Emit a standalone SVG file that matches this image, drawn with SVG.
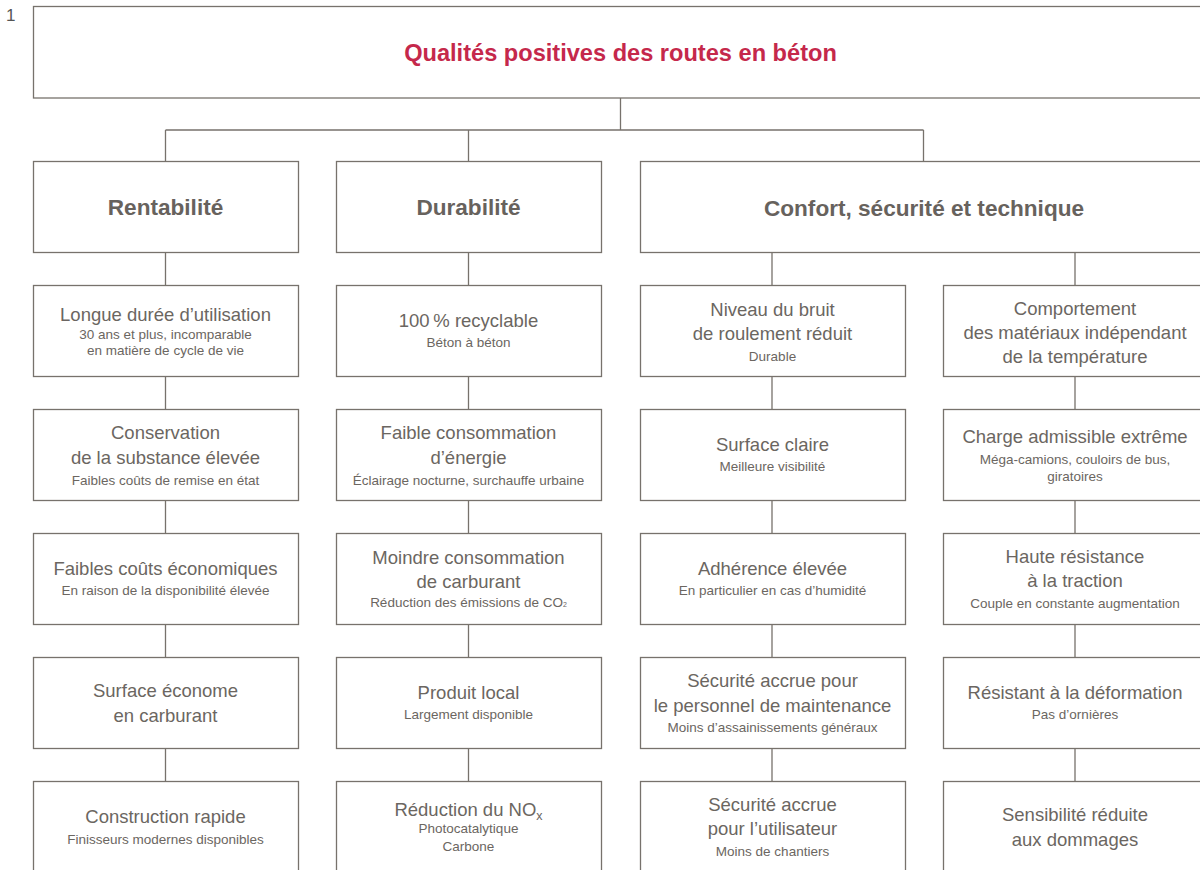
<svg xmlns="http://www.w3.org/2000/svg" width="1200" height="870" viewBox="0 0 1200 870">
  <style>
    .box { fill: #ffffff; stroke: #77726c; stroke-width: 1.3; }
    .conn { fill: none; stroke: #77726c; stroke-width: 1.3; }
    text { font-family: "Liberation Sans", Arial, Helvetica, sans-serif; fill: #6b6661; text-anchor: middle; }
    .title { font-size: 23.6px; font-weight: bold; fill: #c5284b; }
    .head { font-size: 22.6px; font-weight: bold; fill: #67625d; }
    .m { font-size: 18.5px; }
    .s { font-size: 13.5px; }
    .num { font-size: 17px; text-anchor: start; fill: #555; }
  </style>

  <text class="num" x="6" y="21">1</text>

  <!-- tree connectors -->
  <g id="connectors">
    <path class="conn" d="M620.5 98V130 M165.5 130H923.5 M165.5 130V161 M468.5 130V161 M923.5 130V161"/>
    <path class="conn" d="M165.5 252V285 M468.5 252V285 M772 252V285 M1075 252V285"/>
    <path class="conn" d="M165.5 376V409 M468.5 376V409 M772 376V409 M1075 376V409"/>
    <path class="conn" d="M165.5 500V533 M468.5 500V533 M772 500V533 M1075 500V533"/>
    <path class="conn" d="M165.5 624V657 M468.5 624V657 M772 624V657 M1075 624V657"/>
    <path class="conn" d="M165.5 748V781 M468.5 748V781 M772 748V781 M1075 748V781"/>
  </g>

  <!-- root -->
  <g id="root">
    <rect class="box" x="33.5" y="6.5" width="1180" height="91.5"/>
    <text class="title" x="620.5" y="61">Qualités positives des routes en béton</text>
  </g>

  <!-- categories -->
  <g id="cat-rentabilite">
    <rect class="box" x="33.5" y="161.5" width="265" height="91"/>
    <text class="head" x="165.5" y="215">Rentabilité</text>
  </g>
  <g id="cat-durabilite">
    <rect class="box" x="336.5" y="161.5" width="265" height="91"/>
    <text class="head" x="468.5" y="215">Durabilité</text>
  </g>
  <g id="cat-confort">
    <rect class="box" x="640.5" y="161.5" width="580" height="91"/>
    <text class="head" x="924" y="216">Confort, sécurité et technique</text>
  </g>

  <!-- column 1 -->
  <g id="c1r1">
    <rect class="box" x="33.5" y="285.5" width="265" height="91"/>
    <text class="m" x="165.5" y="321">Longue durée d’utilisation</text>
    <text class="s" x="165.5" y="339">30 ans et plus, incomparable</text>
    <text class="s" x="165.5" y="355">en matière de cycle de vie</text>
  </g>
  <g id="c1r2">
    <rect class="box" x="33.5" y="409.5" width="265" height="91"/>
    <text class="m" x="165.5" y="439">Conservation</text>
    <text class="m" x="165.5" y="464">de la substance élevée</text>
    <text class="s" x="165.5" y="485">Faibles coûts de remise en état</text>
  </g>
  <g id="c1r3">
    <rect class="box" x="33.5" y="533.5" width="265" height="91"/>
    <text class="m" x="165.5" y="575">Faibles coûts économiques</text>
    <text class="s" x="165.5" y="595">En raison de la disponibilité élevée</text>
  </g>
  <g id="c1r4">
    <rect class="box" x="33.5" y="657.5" width="265" height="91"/>
    <text class="m" x="165.5" y="697">Surface économe</text>
    <text class="m" x="165.5" y="722">en carburant</text>
  </g>
  <g id="c1r5">
    <rect class="box" x="33.5" y="781.5" width="265" height="100"/>
    <text class="m" x="165.5" y="823">Construction rapide</text>
    <text class="s" x="165.5" y="844">Finisseurs modernes disponibles</text>
  </g>

  <!-- column 2 -->
  <g id="c2r1">
    <rect class="box" x="336.5" y="285.5" width="265" height="91"/>
    <text class="m" x="468.5" y="327">100&#8201;% recyclable</text>
    <text class="s" x="468.5" y="347">Béton à béton</text>
  </g>
  <g id="c2r2">
    <rect class="box" x="336.5" y="409.5" width="265" height="91"/>
    <text class="m" x="468.5" y="439">Faible consommation</text>
    <text class="m" x="468.5" y="464">d’énergie</text>
    <text class="s" x="468.5" y="485">Éclairage nocturne, surchauffe urbaine</text>
  </g>
  <g id="c2r3">
    <rect class="box" x="336.5" y="533.5" width="265" height="91"/>
    <text class="m" x="468.5" y="564">Moindre consommation</text>
    <text class="m" x="468.5" y="588">de carburant</text>
    <text class="s" x="468.5" y="607">Réduction des émissions de CO<tspan font-size="7">2</tspan></text>
  </g>
  <g id="c2r4">
    <rect class="box" x="336.5" y="657.5" width="265" height="91"/>
    <text class="m" x="468.5" y="699">Produit local</text>
    <text class="s" x="468.5" y="719">Largement disponible</text>
  </g>
  <g id="c2r5">
    <rect class="box" x="336.5" y="781.5" width="265" height="100"/>
    <text class="m" x="468.5" y="816">Réduction du NO<tspan font-size="12.5" dy="4">x</tspan></text>
    <text class="s" x="468.5" y="833">Photocatalytique</text>
    <text class="s" x="468.5" y="851">Carbone</text>
  </g>

  <!-- column 3 -->
  <g id="c3r1">
    <rect class="box" x="640.5" y="285.5" width="265" height="91"/>
    <text class="m" x="772.5" y="316">Niveau du bruit</text>
    <text class="m" x="772.5" y="340">de roulement réduit</text>
    <text class="s" x="772.5" y="361">Durable</text>
  </g>
  <g id="c3r2">
    <rect class="box" x="640.5" y="409.5" width="265" height="91"/>
    <text class="m" x="772.5" y="451">Surface claire</text>
    <text class="s" x="772.5" y="471">Meilleure visibilité</text>
  </g>
  <g id="c3r3">
    <rect class="box" x="640.5" y="533.5" width="265" height="91"/>
    <text class="m" x="772.5" y="575">Adhérence élevée</text>
    <text class="s" x="772.5" y="595">En particulier en cas d’humidité</text>
  </g>
  <g id="c3r4">
    <rect class="box" x="640.5" y="657.5" width="265" height="91"/>
    <text class="m" x="772.5" y="687">Sécurité accrue pour</text>
    <text class="m" x="772.5" y="712">le personnel de maintenance</text>
    <text class="s" x="772.5" y="732">Moins d’assainissements généraux</text>
  </g>
  <g id="c3r5">
    <rect class="box" x="640.5" y="781.5" width="265" height="100"/>
    <text class="m" x="772.5" y="811">Sécurité accrue</text>
    <text class="m" x="772.5" y="835">pour l’utilisateur</text>
    <text class="s" x="772.5" y="856">Moins de chantiers</text>
  </g>

  <!-- column 4 -->
  <g id="c4r1">
    <rect class="box" x="943.5" y="285.5" width="275" height="91"/>
    <text class="m" x="1075" y="315">Comportement</text>
    <text class="m" x="1075" y="339">des matériaux indépendant</text>
    <text class="m" x="1075" y="363">de la température</text>
  </g>
  <g id="c4r2">
    <rect class="box" x="943.5" y="409.5" width="275" height="91"/>
    <text class="m" x="1075" y="443">Charge admissible extrême</text>
    <text class="s" x="1075" y="464">Méga-camions, couloirs de bus,</text>
    <text class="s" x="1075" y="481">giratoires</text>
  </g>
  <g id="c4r3">
    <rect class="box" x="943.5" y="533.5" width="275" height="91"/>
    <text class="m" x="1075" y="563">Haute résistance</text>
    <text class="m" x="1075" y="587">à la traction</text>
    <text class="s" x="1075" y="608">Couple en constante augmentation</text>
  </g>
  <g id="c4r4">
    <rect class="box" x="943.5" y="657.5" width="275" height="91"/>
    <text class="m" x="1075" y="699">Résistant à la déformation</text>
    <text class="s" x="1075" y="719">Pas d’ornières</text>
  </g>
  <g id="c4r5">
    <rect class="box" x="943.5" y="781.5" width="275" height="100"/>
    <text class="m" x="1075" y="821">Sensibilité réduite</text>
    <text class="m" x="1075" y="846">aux dommages</text>
  </g>
</svg>
